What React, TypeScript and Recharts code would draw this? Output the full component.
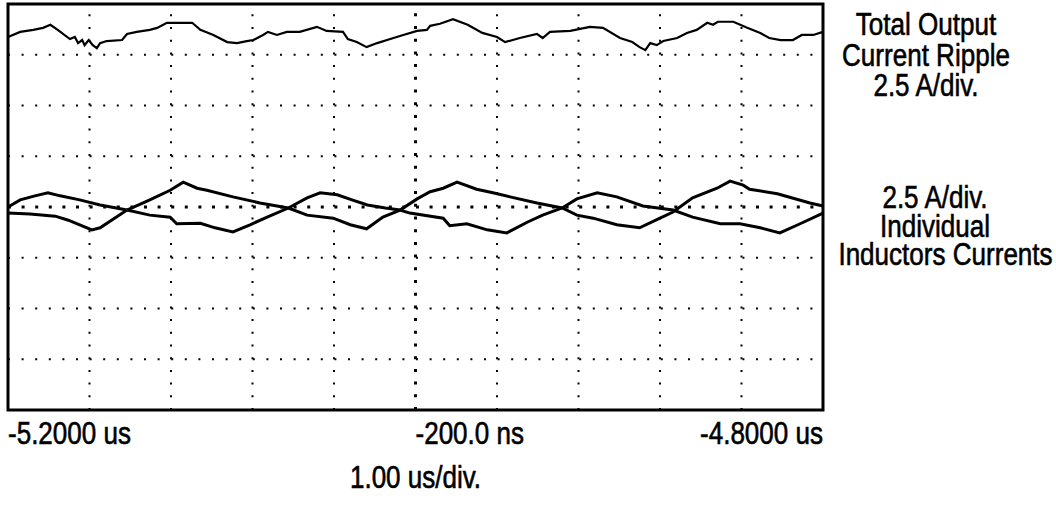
import React from "react";
import { LineChart, Line, XAxis, YAxis, ReferenceLine, ReferenceArea } from "recharts";

// Time in divisions (0..10), current in divisions (-4..4)
const rippleTime = [0, 0.15, 0.31, 0.43, 0.52, 0.61, 0.76, 0.82, 0.86, 0.91, 0.94, 0.99, 1.04, 1.09, 1.13, 1.21, 1.4, 1.46, 1.58, 1.74, 1.83, 1.95, 2.11, 2.26, 2.36, 2.52, 2.69, 2.81, 2.93, 3.01, 3.13, 3.19, 3.3, 3.42, 3.58, 3.79, 3.91, 4.11, 4.17, 4.28, 4.4, 4.53, 4.69, 4.85, 5.02, 5.14, 5.18, 5.3, 5.46, 5.64, 5.82, 6.0, 6.1, 6.28, 6.49, 6.56, 6.65, 6.9, 7.14, 7.3, 7.51, 7.66, 7.75, 7.82, 7.88, 7.96, 8.04, 8.21, 8.33, 8.45, 8.58, 8.65, 8.71, 8.9, 9.07, 9.23, 9.34, 9.48, 9.63, 9.74, 9.88, 10.0];
const rippleValue = [3.35, 3.45, 3.49, 3.53, 3.59, 3.49, 3.31, 3.35, 3.23, 3.29, 3.19, 3.29, 3.19, 3.13, 3.23, 3.27, 3.29, 3.41, 3.45, 3.49, 3.53, 3.63, 3.63, 3.63, 3.49, 3.39, 3.25, 3.23, 3.27, 3.29, 3.39, 3.45, 3.39, 3.45, 3.45, 3.55, 3.47, 3.45, 3.31, 3.25, 3.15, 3.23, 3.31, 3.39, 3.47, 3.49, 3.57, 3.61, 3.7, 3.59, 3.43, 3.35, 3.25, 3.33, 3.41, 3.33, 3.45, 3.47, 3.55, 3.53, 3.33, 3.25, 3.15, 3.09, 3.23, 3.19, 3.27, 3.33, 3.43, 3.49, 3.63, 3.59, 3.65, 3.65, 3.53, 3.43, 3.33, 3.29, 3.29, 3.39, 3.39, 3.45];

const inductorATime = [0, 0.15, 0.33, 0.49, 0.64, 0.88, 1.13, 1.46, 1.74, 1.99, 2.07, 2.36, 2.54, 2.76, 2.97, 3.18, 3.44, 3.67, 3.83, 4.04, 4.22, 4.41, 4.63, 4.81, 4.93, 5.34, 5.42, 5.63, 5.88, 6.12, 6.37, 6.56, 6.8, 6.98, 7.23, 7.47, 7.79, 8.16, 8.4, 8.74, 8.98, 9.23, 9.47, 9.72, 10.0];
const inductorAValue = [0, 0.14, 0.22, 0.28, 0.22, 0.14, 0.04, -0.06, -0.16, -0.2, -0.33, -0.32, -0.41, -0.49, -0.35, -0.2, -0.02, 0.18, 0.28, 0.24, 0.14, 0.04, -0.02, -0.06, -0.12, -0.22, -0.37, -0.33, -0.45, -0.51, -0.3, -0.16, -0.02, 0.16, 0.28, 0.2, 0.02, -0.06, -0.2, -0.33, -0.33, -0.41, -0.51, -0.33, -0.12];

const inductorBTime = [0, 0.27, 0.58, 0.74, 1.03, 1.13, 1.46, 1.74, 1.99, 2.15, 2.32, 2.44, 2.76, 3.09, 3.44, 3.67, 3.99, 4.2, 4.4, 4.6, 4.81, 5.02, 5.18, 5.34, 5.51, 5.75, 5.95, 6.16, 6.49, 6.8, 6.98, 7.18, 7.47, 7.75, 8.0, 8.16, 8.4, 8.7, 8.86, 9.02, 9.1, 9.44, 9.84, 10.0];
const inductorBValue = [-0.12, -0.14, -0.18, -0.26, -0.45, -0.41, -0.06, 0.14, 0.33, 0.49, 0.37, 0.33, 0.2, 0.08, -0.02, -0.16, -0.22, -0.35, -0.43, -0.2, -0.06, 0.16, 0.3, 0.37, 0.49, 0.35, 0.28, 0.2, 0.08, -0.02, -0.16, -0.22, -0.35, -0.41, -0.22, -0.1, 0.18, 0.37, 0.51, 0.43, 0.35, 0.26, 0.08, 0.02];

const timeTicks = [0, 5, 10];
const timeTickLabels = ["-5.2000 us", "-200.0 ns", "-4.8000 us"];
const timeScaleLabel = "1.00 us/div.";
const gridX = [1, 2, 3, 4, 6, 7, 8, 9];
const gridY = [-3, -2, -1, 1, 2, 3];
const rippleLabel = ["Total Output", "Current Ripple", "2.5 A/div."];
const inductorLabel = ["2.5 A/div.", "Individual", "Inductors Currents"];

const toPoints = (t: number[], v: number[]) => t.map((x, i) => ({ t: x, v: v[i] }));
const rippleData = toPoints(rippleTime, rippleValue);
const inductorAData = toPoints(inductorATime, inductorAValue);
const inductorBData = toPoints(inductorBTime, inductorBValue);

const FONT = "'Liberation Sans', Arial, sans-serif";
const SQUEEZE = 0.84;
const FS = 31;

const TimeTick = (props: any) => {
  const { x, y, payload, index } = props;
  const anchor = index === timeTicks.length - 1 ? "end" : "start";
  const i = timeTicks.indexOf(payload.value);
  return (
    <g transform={`translate(${x},${y + 26}) scale(${SQUEEZE},1)`}>
      <text x={0} y={0} textAnchor={anchor} fontSize={FS} fontFamily={FONT} fill="#000" stroke="#000" strokeWidth={0.6}>
        {timeTickLabels[i]}
      </text>
    </g>
  );
};

const ScaleLabel = (props: any) => {
  const vb = props.viewBox || { x: 0, y: 0, width: 0, height: 0 };
  return (
    <g transform={`translate(${vb.x + vb.width / 2},${vb.y + vb.height - 20}) scale(${SQUEEZE},1)`}>
      <text x={0} y={0} textAnchor="middle" fontSize={FS} fontFamily={FONT} fill="#000" stroke="#000" strokeWidth={0.6}>
        {timeScaleLabel}
      </text>
    </g>
  );
};

const lineStyle: React.CSSProperties = {
  display: "block",
  whiteSpace: "nowrap",
  transform: `scaleX(${SQUEEZE})`,
  transformOrigin: "center",
  WebkitTextStroke: "0.6px #000",
};

export default function App() {
  return (
    <div style={{ position: "absolute", left: 0, top: 0, width: 1056, height: 508, background: "#fff", fontFamily: FONT }}>
      <LineChart width={1056} height={508} margin={{ top: 4, right: 233, bottom: 0, left: 8 }}>
        <XAxis
          dataKey="t"
          type="number"
          domain={[0, 10]}
          ticks={timeTicks}
          tick={<TimeTick />}
          tickLine={false}
          axisLine={false}
          height={98}
          allowDuplicatedCategory={false}
          label={<ScaleLabel />}
        />
        <YAxis type="number" domain={[-4, 4]} hide />
        {gridX.map((g) => (
          <ReferenceLine key={"gx" + g} x={g} stroke="#000" strokeWidth={2} strokeDasharray="2 10.7" />
        ))}
        {gridY.map((g) => (
          <ReferenceLine key={"gy" + g} y={g} stroke="#000" strokeWidth={2} strokeDasharray="2 11.6" />
        ))}
        <ReferenceLine x={5} stroke="#000" strokeWidth={3} strokeDasharray="3 9.7" />
        <ReferenceLine y={0} stroke="#000" strokeWidth={3} strokeDasharray="3 10.6" />
        <Line data={rippleData} dataKey="v" type="linear" stroke="#000" strokeWidth={2.2} dot={false} isAnimationActive={false} />
        <Line data={inductorAData} dataKey="v" type="linear" stroke="#000" strokeWidth={3} dot={false} isAnimationActive={false} />
        <Line data={inductorBData} dataKey="v" type="linear" stroke="#000" strokeWidth={3} dot={false} isAnimationActive={false} />
        <ReferenceArea x1={0} x2={10} y1={-4} y2={4} fill="none" fillOpacity={0} stroke="#000" strokeWidth={3} />
      </LineChart>
      <div style={{ position: "absolute", left: 811, top: 10, width: 230, textAlign: "center", fontSize: FS, lineHeight: "30.5px", color: "#000" }}>
        {rippleLabel.map((s) => (
          <span key={s} style={lineStyle}>{s}</span>
        ))}
      </div>
      <div style={{ position: "absolute", left: 820, top: 184, width: 230, textAlign: "center", fontSize: FS, lineHeight: "28.5px", color: "#000" }}>
        {inductorLabel.map((s) => (
          <span key={s} style={lineStyle}>{s}</span>
        ))}
      </div>
    </div>
  );
}
